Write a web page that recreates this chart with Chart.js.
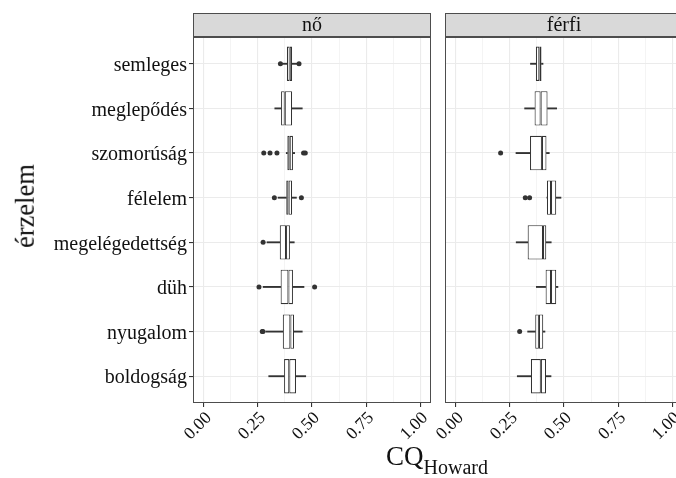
<!DOCTYPE html>
<html><head><meta charset="utf-8">
<script src="https://cdn.jsdelivr.net/npm/chart.js@4.4.1/dist/chart.umd.min.js"></script>
<style>
html,body{margin:0;padding:0;width:676px;height:478px;overflow:hidden;background:#fff;}
#wrap{position:relative;width:676px;height:478px;overflow:hidden;background:#fff;}
canvas{position:absolute;top:0;}
#cL{left:0;}
#cR{left:400px;}
.ttl{position:absolute;font-family:'Liberation Serif','Times New Roman',serif;color:#111;white-space:nowrap;line-height:1;}
#ytitle{left:25px;top:206px;font-size:26.5px;transform:translate(-50%,-50%) rotate(-90deg);}
#xtitle{left:437px;top:443px;font-size:27px;line-height:27px;transform:translateX(-50%);}
#xtitle span{font-size:20px;position:relative;top:9px;}
</style></head><body>
<div id="wrap">
<canvas id="cL" width="440" height="478"></canvas>
<canvas id="cR" width="290" height="478"></canvas>
<div class="ttl" id="ytitle">érzelem</div>
<div class="ttl" id="xtitle">CQ<span>Howard</span></div>
</div>
<script>
const categories = ['semleges','meglepődés','szomorúság','félelem','megelégedettség','düh','nyugalom','boldogság'];
const panels = ['nő','férfi'];
const xTicks = [0, 0.125, 0.25, 0.375, 0.5, 0.625, 0.75, 0.875, 1];

// nő
const noLo  = [0.362, 0.328, 0.381, 0.343, 0.292, 0.274, 0.286, 0.300];
const noQ1  = [0.384, 0.357, 0.386, 0.381, 0.351, 0.355, 0.365, 0.371];
const noMed = [0.397, 0.374, 0.397, 0.392, 0.380, 0.391, 0.400, 0.395];
const noQ3  = [0.408, 0.408, 0.412, 0.408, 0.398, 0.412, 0.417, 0.426];
const noHi  = [0.432, 0.455, 0.420, 0.428, 0.418, 0.463, 0.455, 0.471];
const noOut = [[0.354, 0.440], [], [0.277, 0.306, 0.338, 0.461, 0.469], [0.326, 0.451], [0.274], [0.255, 0.512], [0.270, 0.273], []];

// férfi
const ffLo  = [0.345, 0.318, 0.278, 0.421, 0.279, 0.372, 0.332, 0.284];
const ffQ1  = [0.370, 0.364, 0.343, 0.421, 0.332, 0.415, 0.367, 0.347];
const ffMed = [0.386, 0.392, 0.398, 0.440, 0.403, 0.440, 0.384, 0.393];
const ffQ3  = [0.396, 0.424, 0.419, 0.464, 0.418, 0.464, 0.404, 0.417];
const ffHi  = [0.403, 0.466, 0.432, 0.486, 0.441, 0.472, 0.412, 0.440];
const ffOut = [[], [], [0.207], [0.321, 0.341], [], [], [0.295], []];

const INK = '#333333';
const TXT = '#111111';
const FONT = "'Liberation Serif', 'Times New Roman', serif";

const panelDeco = {
  id: 'panelDeco',
  beforeDraw(chart, args, opts) {
    const {ctx, chartArea: a} = chart;
    ctx.save();
    ctx.fillStyle = '#D9D9D9';
    ctx.fillRect(a.left, 13, a.right - a.left, 23.5);
    ctx.strokeStyle = '#4D4D4D'; ctx.lineWidth = 1;
    ctx.strokeRect(a.left + 0.5, 13.5, a.right - a.left - 1, 23);
    ctx.fillStyle = TXT;
    ctx.font = '20px ' + FONT;
    ctx.textAlign = 'center'; ctx.textBaseline = 'alphabetic';
    ctx.fillText(opts.label, (a.left + a.right) / 2, 31);
    ctx.restore();
  },
  afterDraw(chart) {
    const {ctx, chartArea: a} = chart;
    ctx.save();
    ctx.strokeStyle = '#4D4D4D'; ctx.lineWidth = 1;
    ctx.strokeRect(a.left + 0.5, a.top + 0.5, a.right - a.left - 1, a.bottom - a.top - 1);
    ctx.restore();
  }
};

function rows(a, b) { return categories.map((c, i) => ({y: i + 1, x: [a[i], b[i]]})); }

function makePanel(id, label, lo, q1, med, q3, hi, out, isLeft) {
  const barCommon = {type: 'bar', indexAxis: 'y', grouped: false, xAxisID: 'x', yAxisID: 'y', categoryPercentage: 1};
  const whisk = {...barCommon, barThickness: 1.2, backgroundColor: INK, borderWidth: 0, order: 3};
  const box = {...barCommon, barPercentage: 0.77, backgroundColor: '#FFFFFF', borderColor: INK, borderWidth: 1.1, borderSkipped: false, order: 2};
  const pts = out.flatMap((arr, i) => arr.map(v => ({x: v, y: i + 1})));
  new Chart(document.getElementById(id), {
    type: 'bar',
    data: {
      datasets: [
        {...whisk, label: 'lo', data: rows(lo, q1)},
        {...whisk, label: 'hi', data: rows(q3, hi)},
        {...box, label: 'box1', data: rows(q1, med)},
        {...box, label: 'box2', data: rows(med, q3)},
        {type: 'scatter', label: 'out', data: pts, xAxisID: 'x', yAxisID: 'y', pointRadius: 2.5, pointBackgroundColor: INK, pointBorderWidth: 0, showLine: false, order: 1}
      ]
    },
    options: {
      responsive: false, animation: false, devicePixelRatio: 1, indexAxis: 'y', events: [],
      layout: {padding: {top: 37, right: isLeft ? 9 : 7, bottom: 0, left: 0}},
      plugins: {legend: {display: false}, tooltip: {enabled: false}, panelDeco: {label: label}},
      scales: {
        x: {
          type: 'linear', min: -0.05, max: 1.05, offset: false,
          afterBuildTicks: s => { s.ticks = xTicks.map(v => ({value: v})); },
          afterFit: s => { s.height = 75; },
          border: {display: false},
          grid: {
            offset: false,
            color: c => '#EBEBEB',
            lineWidth: c => (c.index % 2 === 0 ? 1.1 : 0.55),
            tickColor: c => (c.index % 2 === 0 ? INK : 'rgba(0,0,0,0)'),
            tickLength: 4, drawTicks: true
          },
          ticks: {
            autoSkip: false, minRotation: 45, maxRotation: 45, padding: 1, labelOffset: 5, color: TXT,
            font: {family: FONT, size: 17.5},
            callback: (v, i) => (i % 2 === 0 ? Number(v).toFixed(2) : '')
          }
        },
        y: {
          type: 'linear', min: 0.4, max: 8.6, reverse: true, offset: false,
          afterBuildTicks: s => { s.ticks = categories.map((c, i) => ({value: i + 1})); },
          afterFit: s => { s.width = isLeft ? 193 : 45; },
          border: {display: false},
          grid: {offset: false, color: '#EBEBEB', lineWidth: 1.1, tickColor: INK, tickLength: 4, drawTicks: isLeft},
          ticks: {
            display: isLeft, autoSkip: false, padding: 2, labelOffset: 2, color: TXT,
            font: {family: FONT, size: 20},
            callback: (v, i) => categories[i]
          }
        }
      }
    },
    plugins: [panelDeco]
  });
}

makePanel('cL', panels[0], noLo, noQ1, noMed, noQ3, noHi, noOut, true);
makePanel('cR', panels[1], ffLo, ffQ1, ffMed, ffQ3, ffHi, ffOut, false);
</script>
</body></html>
